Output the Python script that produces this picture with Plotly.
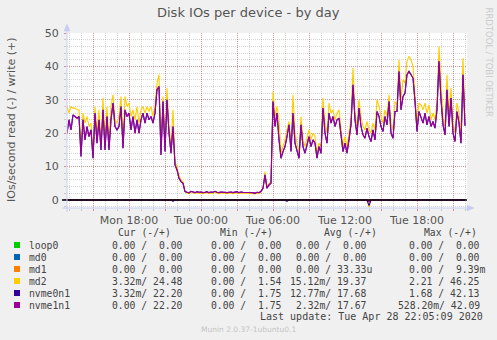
import plotly.graph_objects as go
import pandas as pd

# ---------------- data ----------------
t_start = "2020-04-27 12:50"
n_points = 200
sample = "10min"
x_range = ["2020-04-27 12:50", "2020-04-28 22:10"]

tick_vals = ["2020-04-27 15:00", "2020-04-27 18:00", "2020-04-27 21:00",
             "2020-04-28 00:00", "2020-04-28 03:00", "2020-04-28 06:00",
             "2020-04-28 09:00", "2020-04-28 12:00", "2020-04-28 15:00",
             "2020-04-28 18:00", "2020-04-28 21:00"]
tick_text = ["", "Mon 18:00", "", "Tue 00:00", "", "Tue 06:00", "",
             "Tue 12:00", "", "Tue 18:00", ""]
y_tick_vals = [0, 10, 20, 30, 40, 50]

devices = ["loop0", "md0", "md1", "md2", "nvme0n1", "nvme1n1"]
dev_colors = ["#00cc00", "#0066b3", "#ff8000", "#ffcc00", "#330099", "#990099"]

md2_write = [
    28, 26, 28, 27.5, 27.5, 27, 27, 15, 26, 23,
    25, 22, 23, 14, 28, 20, 27, 17, 30.5, 18,
    28, 17, 28, 31.5, 24, 23, 25, 31, 18, 31,
    28, 29, 25, 27, 24, 28, 23, 27, 28, 26,
    28, 26.5, 28, 25, 28, 35, 37.5, 15, 31, 16,
    33.5, 22, 16, 27, 11.5, 10, 7.5, 6, 5.5, 2.5,
    2.0, 1.9, 2.3, 2.1, 2.0, 2.2, 2.0, 2.1, 1.9, 2.0,
    2.2, 1.9, 2.1, 2.0, 2.3, 2.0, 1.9, 2.1, 2.0, 1.8,
    1.9, 2.0, 2.1, 1.9, 2.0, 2.2, 1.9, 2.1, 2.0, 2.0,
    1.9, 2.1, 2.0, 1.9, 1.8, 2.0, 1.9, 2.3, 3.5, 8.5,
    4, 5, 5.5, 32.5, 25, 28, 24,
    14, 16, 18, 21, 23.5, 17, 31.5, 20, 17, 14,
    25, 18, 16, 19, 21, 18, 20, 19, 14, 17,
    16, 30.5, 23, 20, 29, 26, 27, 24, 26, 27,
    21, 16, 19, 16, 20, 24.5, 39.5, 26, 22, 30,
    25, 22, 21, 23.5, 21, 20, 23, 21, 30, 28,
    25, 23, 27, 25, 31.5, 23, 21, 29.5, 28.5, 42,
    30, 36, 35, 41.5, 43, 42, 40, 32, 23, 29,
    28.5, 27, 29, 26, 28.5, 24, 26, 24, 29.5, 46,
    34, 25, 22, 37.5, 25, 33.5, 23, 20, 29, 26,
    20, 42.5, 24.48]

nvme1n1_write = [
    20, 24, 21, 25.5, 25, 24.5, 25, 13, 24, 18,
    22, 19, 21, 12.5, 26, 17, 24, 15, 27, 15,
    25, 15, 24, 29, 22, 21, 22, 28, 15.5, 27,
    25, 26, 21, 25, 20, 24, 20, 24, 26, 23,
    26, 24, 25, 23, 26, 33, 34, 13.5, 29.5, 14.5,
    30, 20, 14, 22, 10.5, 9, 6.5, 5.5, 5, 2.5,
    2.3, 2.1, 2.6, 2.4, 2.2, 2.5, 2.3, 2.4, 2.2, 2.3,
    2.5, 2.2, 2.4, 2.3, 2.6, 2.3, 2.2, 2.4, 2.3, 2.1,
    2.2, 2.3, 2.4, 2.2, 2.3, 2.5, 2.2, 2.4, 2.3, 2.3,
    2.2, 2.4, 2.3, 2.2, 2.0, 2.3, 2.2, 2.6, 3.5, 7.5,
    3.5, 4.5, 5, 29.5, 22, 26, 18,
    12.5, 14.5, 16, 19, 22.5, 14.5, 26, 17, 15, 12.5,
    22.5, 16, 14, 17, 19, 16, 18, 17, 12.5, 16,
    14, 27.5, 20, 17, 26, 23, 25, 22, 24, 24.5,
    19.5, 14.5, 17, 14, 18, 22.5, 34.5, 24, 19.5, 27.5,
    22, 19.5, 18.5, 21.5, 19, 17.5, 21, 18, 26.5, 25,
    22, 20.5, 25, 22.5, 29.5, 20, 18.5, 26.5, 26.5, 38.5,
    27, 31, 32, 37.5, 38.5, 37.5, 36.5, 29.5, 20.5, 26.5,
    25, 23, 26, 22.5, 25, 22, 23.5, 21.5, 27, 41.5,
    30, 22.5, 19.5, 33, 22, 30.5, 20, 17.5, 26.5, 23,
    17, 37.5, 22.2]

nvme0n1_write = [
    20, 24, 21, 25.5, 25, 24.5, 25, 13, 24, 18,
    22, 19, 21, 12.5, 26, 17, 24, 15, 27, 15,
    25, 15, 24, 29, 22, 21, 22, 28, 15.5, 27,
    25, 26, 21, 25, 20, 24, 20, 24, 26, 23,
    26, 24, 25, 23, 26, 33, 34, 13.5, 29.5, 14.5,
    30, 20, 14, 22, 10.5, 9, 6.5, 5.5, 5, 2.5,
    2.3, 2.1, 2.6, 2.4, 2.2, 2.5, 2.3, 2.4, 2.2, 2.3,
    2.5, 2.2, 2.4, 2.3, 2.6, 2.3, 2.2, 2.4, 2.3, 2.1,
    2.2, 2.3, 2.4, 2.2, 2.3, 2.5, 2.2, 2.4, 2.3, 2.3,
    2.2, 2.4, 2.3, 2.2, 2.0, 2.3, 2.2, 2.6, 3.5, 7.5,
    3.5, 4.5, 5, 29.5, 22, 26, 18,
    12.5, 14.5, 16, 19, 22.5, 14.5, 26, 17, 15, 12.5,
    22.5, 16, 14, 17, 19, 16, 18, 17, 12.5, 16,
    14, 27.5, 20, 17, 26, 23, 25, 22, 24, 24.5,
    19.5, 14.5, 17, 14, 18, 22.5, 34.5, 24, 19.5, 27.5,
    22, 19.5, 18.5, 21.5, 19, 17.5, 21, 18, 26.5, 25,
    22, 20.5, 25, 22.5, 29.5, 20, 18.5, 26.5, 26.5, 38.5,
    27, 31, 32, 37.5, 38.5, 37.5, 36.5, 29.5, 20.5, 26.5,
    25, 23, 26, 22.5, 25, 22, 23.5, 21.5, 27, 41.5,
    30, 22.5, 19.5, 33, 22, 30.5, 20, 17.5, 26.5, 23,
    17, 37.5, 22.2]

# read (plotted downward); only a few non-zero samples
read_idx = [53, 110, 151]
md2_read = [0.2, 0.2, 2.21]
nvme0n1_read = [0.4, 0.4, 1.68]
nvme1n1_read = [0.0, 0.0, 0.53]

# legend table values (read / write)
cur_r = ["0.00", "0.00", "0.00", "3.32m", "3.32m", "0.00"]
cur_w = ["0.00", "0.00", "0.00", "24.48", "22.20", "22.20"]
min_r = ["0.00", "0.00", "0.00", "0.00", "0.00", "0.00"]
min_w = ["0.00", "0.00", "0.00", "1.54", "1.75", "1.75"]
avg_r = ["0.00", "0.00", "0.00", "15.12m", "12.77m", "2.32m"]
avg_w = ["0.00", "0.00", "33.33u", "19.37", "17.68", "17.67"]
max_r = ["0.00", "0.00", "0.00", "2.21", "1.68", "528.20m"]
max_w = ["0.00", "0.00", "9.39m", "46.25", "42.13", "42.09"]

# ---------------- figure ----------------
W, H = 497, 340
PL, PR, PT, PB = 67, 467, 33, 208


def px(x):
    return (x - PL) / (PR - PL)


def py(y):
    return (PB - y) / (PB - PT)


times = pd.date_range(t_start, periods=n_points, freq=sample)


def full_read(vals):
    arr = [0.0] * n_points
    for i, v in zip(read_idx, vals):
        arr[i] = -v
    return arr


zeros = [0.0] * n_points
writes = [zeros, zeros, zeros, md2_write, nvme0n1_write, nvme1n1_write]
reads = [zeros, zeros, zeros, full_read(md2_read), full_read(nvme0n1_read),
         full_read(nvme1n1_read)]

fig = go.Figure()
for name, col, r, w in zip(devices, dev_colors, reads, writes):
    fig.add_trace(go.Scatter(x=times, y=r, mode="lines", name=name,
                             line=dict(color=col, width=1.1), showlegend=False,
                             hoverinfo="skip"))
    fig.add_trace(go.Scatter(x=times, y=w, mode="lines", name=name,
                             line=dict(color=col, width=1.1), showlegend=False,
                             hoverinfo="skip"))

GRID = "rgba(0,0,0,0.16)"
MGRID = "rgba(255,0,0,0.33)"
AXC = "#c8ccf2"
TXT = "#555555"

fig.update_layout(
    width=W, height=H,
    margin=dict(l=PL, r=W - PR, t=PT, b=H - PB, pad=0),
    paper_bgcolor="#f0f0f0", plot_bgcolor="#ffffff",
    font=dict(family="DejaVu Sans", size=11, color=TXT),
    showlegend=False,
    xaxis=dict(type="date", range=x_range, tickmode="array",
               tickvals=tick_vals, ticktext=tick_text,
               showgrid=True, gridcolor=MGRID, griddash="1px,1px", gridwidth=1,
               ticks="outside", ticklen=2, tickcolor=MGRID,
               tickfont=dict(size=11, color=TXT), showline=False,
               zeroline=False,
               minor=dict(dtick=3600000, tick0="2020-04-27 13:00",
                          showgrid=True, gridcolor=GRID, griddash="1px,1px",
                          ticks="outside", ticklen=2, tickcolor=GRID)),
    yaxis=dict(range=[-2.4, 50], tickmode="array", tickvals=y_tick_vals,
               showgrid=True, gridcolor=MGRID, griddash="1px,1px", gridwidth=1,
               ticks="outside", ticklen=2, tickcolor=MGRID,
               tickfont=dict(size=11, color=TXT), showline=False,
               zeroline=False, ticklabelstandoff=3,
               minor=dict(dtick=2, showgrid=True, gridcolor=GRID,
                          griddash="1px,1px", ticks="outside", ticklen=2,
                          tickcolor=GRID)),
)

shapes = []
# zero rule
shapes.append(dict(type="line", xref="paper", yref="y", x0=px(62), x1=1, y0=0, y1=0,
                   line=dict(color="#000000", width=1.5), layer="above"))
# axes with arrows
shapes.append(dict(type="line", xref="paper", yref="paper", x0=px(62), x1=px(470),
                   y0=0, y1=0, line=dict(color=AXC, width=1), layer="above"))
shapes.append(dict(type="line", xref="paper", yref="paper", x0=0, x1=0,
                   y0=py(212), y1=py(28), line=dict(color=AXC, width=1), layer="above"))
shapes.append(dict(type="path", xref="paper", yref="paper",
                   path=f"M {px(64)},{py(31)} L {px(70)},{py(31)} L {px(67)},{py(24)} Z",
                   fillcolor=AXC, line=dict(color=AXC, width=0.5), layer="above"))
shapes.append(dict(type="path", xref="paper", yref="paper",
                   path=f"M {px(467)},{py(205)} L {px(467)},{py(211)} L {px(474)},{py(208)} Z",
                   fillcolor=AXC, line=dict(color=AXC, width=0.5), layer="above"))

ann = []
ann.append(dict(text="Disk IOs per device - by day", x=px(248), y=py(13),
                xref="paper", yref="paper", showarrow=False,
                font=dict(size=13, color=TXT), xanchor="center", yanchor="middle"))
ann.append(dict(text="IOs/second read (-) / write (+)", x=px(11), y=py(120),
                xref="paper", yref="paper", showarrow=False, textangle=-90,
                font=dict(size=11, color=TXT), xanchor="center", yanchor="middle"))
ann.append(dict(text="RRDTOOL / TOBI OETIKER", x=px(488.5), y=py(5),
                xref="paper", yref="paper", showarrow=False, textangle=90,
                font=dict(size=8.5, color="#cccccc"), xanchor="center", yanchor="top"))

MONO = "DejaVu Sans Mono"
LTXT = "#444444"
LSIZE = 9.75
row_y = [245, 257, 269, 281, 293, 305]


def fmt(v):
    if v[-1].isalpha():
        return f"{v[:-1]:>6}{v[-1]}"
    return f"{v:>6} "


def cell(r, w):
    s = (fmt(r) + "/" + fmt(w)).rstrip()
    lead = len(s) - len(s.lstrip())
    return s.lstrip().replace(" ", "\u00a0"), lead


headers = [("Cur\u00a0(-/+)", 116), ("Min\u00a0(-/+)", 218), ("Avg\u00a0(-/+)", 321.5),
           ("Max\u00a0(-/+)", 421.5)]
for htxt, hx in headers:
    ann.append(dict(text=htxt, x=px(hx), y=py(232.5), xref="paper", yref="paper",
                    showarrow=False, xanchor="left", yanchor="middle",
                    font=dict(family=MONO, size=LSIZE, color=LTXT)))

CHW = LSIZE * 0.602
col_x = [98.5, 197.5, 282.5, 395.5]
cols = [(cur_r, cur_w), (min_r, min_w), (avg_r, avg_w), (max_r, max_w)]
for k, name in enumerate(devices):
    yy = row_y[k]
    shapes.append(dict(type="rect", xref="paper", yref="paper",
                       x0=px(14), x1=px(20), y0=py(yy + 3), y1=py(yy - 3),
                       fillcolor=dev_colors[k], line=dict(width=0)))
    ann.append(dict(text=name, x=px(26.5), y=py(yy), xref="paper", yref="paper",
                    showarrow=False, xanchor="left", yanchor="middle",
                    font=dict(family=MONO, size=LSIZE, color=LTXT)))
    for (rr, ww), cx in zip(cols, col_x):
        txt, lead = cell(rr[k], ww[k])
        ann.append(dict(text=txt, x=px(cx + lead * CHW), y=py(yy),
                        xref="paper", yref="paper", showarrow=False,
                        xanchor="left", yanchor="middle",
                        font=dict(family=MONO, size=LSIZE, color=LTXT)))

ann.append(dict(text="Last\u00a0update:\u00a0Tue\u00a0Apr\u00a028\u00a022:05:09\u00a02020",
                x=px(485.5), y=py(316), xref="paper", yref="paper", showarrow=False,
                xanchor="right", yanchor="middle",
                font=dict(family=MONO, size=10, color=LTXT)))
ann.append(dict(text="Munin 2.0.37-1ubuntu0.1", x=px(248), y=py(329.5),
                xref="paper", yref="paper", showarrow=False, xanchor="center",
                yanchor="middle", font=dict(size=7.5, color="#c4c4c4")))

fig.update_layout(shapes=shapes, annotations=ann)
fig.write_html("out.html")
